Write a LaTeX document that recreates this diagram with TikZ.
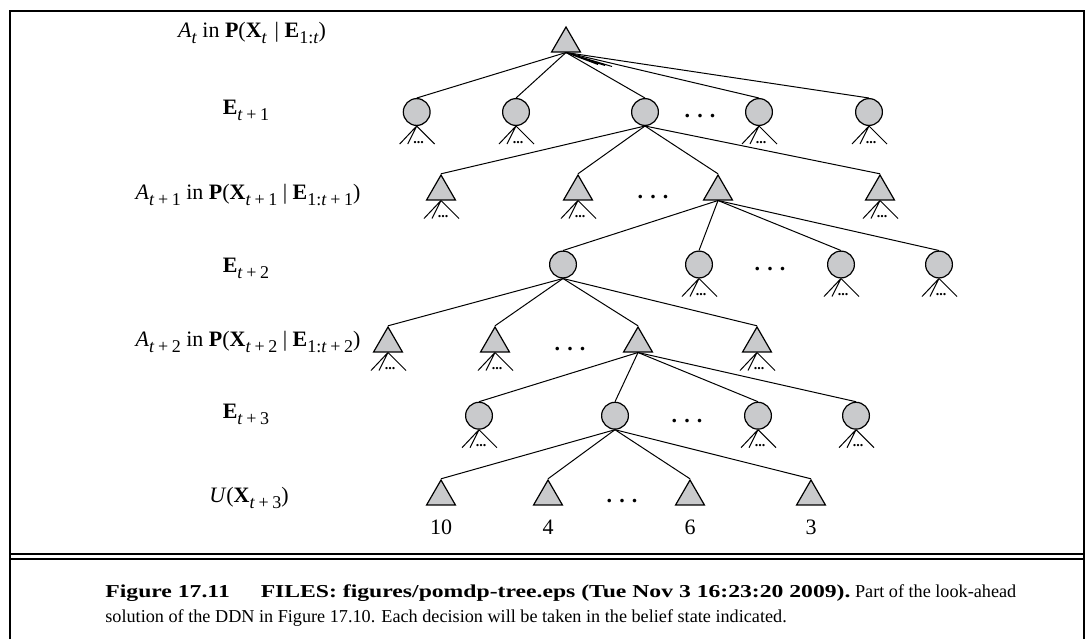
\documentclass[tikz,border=0pt]{standalone}
\usepackage{fontspec}
\setmainfont{Liberation Serif}
\usetikzlibrary{shapes.geometric}
\definecolor{nodefill}{RGB}{201,202,204}
\newcommand{\lsub}[1]{\raisebox{-0.3em}{\fontsize{9}{9}\selectfont #1}}
\newcommand{\pl}{\hspace{0.2em}+\hspace{0.2em}}

\begin{document}
\begin{tikzpicture}[x=0.5pt,y=-0.5pt,
    circ/.style={circle,draw,line width=0.6pt,fill=nodefill,minimum size=13.4pt,inner sep=0pt},
    tri/.style={regular polygon,regular polygon sides=3,draw,line width=0.6pt,fill=nodefill,minimum size=16.6pt,inner sep=0pt},
    edge/.style={line width=0.5pt},
    lbl/.style={font=\fontsize{11}{12}\selectfont,anchor=base},
    gap/.style={font=\fontsize{11}{12}\selectfont\bfseries,inner sep=0pt},
    more/.style={font=\fontsize{7}{7}\selectfont\bfseries,inner sep=0pt,anchor=base},
    frame/.style={line width=1.4pt},
    capt/.style={font=\fontsize{9.1}{11}\selectfont,anchor=base west,inner sep=0pt}
]
\useasboundingbox (0,0) rectangle (1087,639);
\draw[frame] (10,639) -- (10,11) -- (1084,11) -- (1084,639);
\draw[line width=1.1pt] (10,554) -- (1084,554);
\draw[line width=1.1pt] (10,559) -- (1084,559);

\node[lbl] (l0) at (252,37) {\textit{A}\lsub{\textit{t}} in \textbf{P}(\textbf{X}\lsub{\textit{t}}\hspace{0.1em} | \textbf{E}\lsub{1:\textit{t}})};
\node[lbl] (l1) at (246,114) {\textbf{E}\lsub{\textit{t}\pl1}};
\node[lbl] (l2) at (248,199) {\textit{A}\lsub{\textit{t}\pl1} in \textbf{P}(\textbf{X}\lsub{\textit{t}\pl1} | \textbf{E}\lsub{1:\textit{t}\pl1})};
\node[lbl] (l3) at (246,272) {\textbf{E}\lsub{\textit{t}\pl2}};
\node[lbl] (l4) at (248,346) {\textit{A}\lsub{\textit{t}\pl2} in \textbf{P}(\textbf{X}\lsub{\textit{t}\pl2} | \textbf{E}\lsub{1:\textit{t}\pl2})};
\node[lbl] (l5) at (246,418) {\textbf{E}\lsub{\textit{t}\pl3}};
\node[lbl] (l6) at (249,502) {\textit{U}(\textbf{X}\lsub{\textit{t}\pl3})};

\node[tri] (a0) at (566,43.6) {};

\node[circ] (e1a) at (416.7,112) {};
\node[circ] (e1b) at (516,112) {};
\node[circ] (e1c) at (645,112) {};
\node[gap] (g1) at (700,116) {.\hspace{3.6pt}.\hspace{3.6pt}.};
\node[circ] (e1d) at (759,112) {};
\node[circ] (e1e) at (869,112) {};

\node[tri] (a1a) at (441,191.6) {};
\node[tri] (a1b) at (578,191.6) {};
\node[gap] (g2) at (653,197) {.\hspace{3.6pt}.\hspace{3.6pt}.};
\node[tri] (a1c) at (718,191.6) {};
\node[tri] (a1d) at (880,191.6) {};

\node[circ] (e2a) at (563,264.5) {};
\node[circ] (e2b) at (699,264.5) {};
\node[gap] (g3) at (770,269) {.\hspace{3.6pt}.\hspace{3.6pt}.};
\node[circ] (e2c) at (841,264.5) {};
\node[circ] (e2d) at (939,264.5) {};

\node[tri] (a2a) at (388,343.6) {};
\node[tri] (a2b) at (495,343.6) {};
\node[gap] (g4) at (570,349) {.\hspace{3.6pt}.\hspace{3.6pt}.};
\node[tri] (a2c) at (638,343.6) {};
\node[tri] (a2d) at (757,343.6) {};

\node[circ] (e3a) at (479,415.7) {};
\node[circ] (e3b) at (615,415.7) {};
\node[gap] (g5) at (687,421) {.\hspace{3.6pt}.\hspace{3.6pt}.};
\node[circ] (e3c) at (758,415.7) {};
\node[circ] (e3d) at (856,415.7) {};

\node[tri] (ua) at (441,496.6) {};
\node[tri] (ub) at (548,496.6) {};
\node[gap] (g6) at (622,501) {.\hspace{3.6pt}.\hspace{3.6pt}.};
\node[tri] (uc) at (690,496.6) {};
\node[tri] (ud) at (811,496.6) {};

\node[lbl] (va) at (441,534) {10};
\node[lbl] (vb) at (548,534) {4};
\node[lbl] (vc) at (690,534) {6};
\node[lbl] (vd) at (811,534) {3};

\foreach \c in {e1a,e1b,e1c,e1d,e1e}
    \draw[edge] (a0.south) -- (\c.north);
\draw[edge] (a0.south) -- ++(32,12) (a0.south) -- ++(39,13) (a0.south) -- ++(46,14);
\foreach \c in {a1a,a1b,a1c,a1d}
    \draw[edge] (e1c.south) -- (\c.north);
\foreach \c in {e2a,e2b,e2c,e2d}
    \draw[edge] (a1c.south) -- (\c.north);
\foreach \c in {a2a,a2b,a2c,a2d}
    \draw[edge] (e2a.south) -- (\c.north);
\foreach \c in {e3a,e3b,e3c,e3d}
    \draw[edge] (a2c.south) -- (\c.north);
\foreach \c in {ua,ub,uc,ud}
    \draw[edge] (e3b.south) -- (\c.north);

\foreach \n in {e1a,e1b,e1d,e1e,a1a,a1b,a1d,e2b,e2c,e2d,a2a,a2b,a2d,e3a,e3c,e3d} {
    \draw[edge] (\n.south) -- ++(-17,18) (\n.south) -- ++(-9,18) (\n.south) -- ++(18,18);
    \node[more] at ([shift={(2,17)}]\n.south) {...};
}

\node[capt] (c1) at (105,597) {\scalebox{1.3}[1]{\textbf{Figure 17.11}}\hspace{1.7em}\scalebox{1.3}[1]{\textbf{FILES: figures/pomdp-tree.eps (Tue Nov 3 16:23:20 2009).}} Part of the look-ahead};
\node[capt] (c2) at (105,622) {solution of the DDN in Figure 17.10. Each decision will be taken in the belief state indicated.};
\end{tikzpicture}
\end{document}
